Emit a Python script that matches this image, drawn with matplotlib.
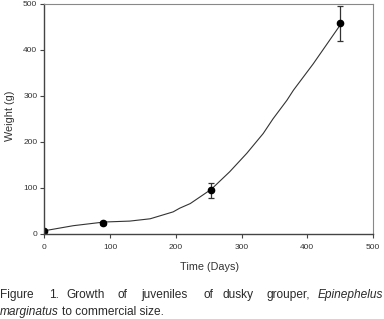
import matplotlib
matplotlib.use("Agg")
import matplotlib.pyplot as plt

# measured means with standard deviation
days = [0, 90, 253, 450]
weight = [7, 24.5, 95, 457]
weight_sd = [0, 4, 16, 38]

# fitted growth curve
curve_days = [0, 44, 91, 130, 161, 196, 206, 222, 254, 282, 308, 333, 348, 369, 379, 409, 448]
curve_weight = [7, 18, 26, 28, 33, 48, 56, 66, 97, 135, 175, 218, 250, 290, 312, 369, 449]

x_ticks = [0, 100, 200, 300, 400, 500]
y_ticks = [0, 100, 200, 300, 400, 500]

W, H = 384, 319
fig = plt.figure(figsize=(W / 100, H / 100), dpi=100)
ax = fig.add_axes([44.3 / W, 1 - 234 / H, (373 - 44.3) / W, (234 - 3.5) / H])

ax.plot(curve_days, curve_weight, color="#333333", lw=0.8)
ax.errorbar(days, weight, yerr=weight_sd, fmt="o", color="black", ms=4.5,
            ecolor="#333333", elinewidth=0.9, capsize=2.5, capthick=0.9)

ax.set_xlim(0, 500)
ax.set_ylim(0, 500)
ax.set_xticks(x_ticks)
ax.set_yticks(y_ticks)

label_font = ["Liberation Sans", "DejaVu Sans"]
ax.tick_params(direction="out", length=3, width=0.8, color="#444444",
               labelsize=6, labelcolor="#333333", top=False, right=False)
ax.tick_params(axis="x", pad=4.5)
ax.tick_params(axis="y", pad=2)
for lab in ax.get_xticklabels() + ax.get_yticklabels():
    lab.set_family(label_font)

for side in ["left", "bottom"]:
    ax.spines[side].set_color("#444444")
    ax.spines[side].set_linewidth(1.0)
for side in ["top", "right"]:
    ax.spines[side].set_color("#888888")
    ax.spines[side].set_linewidth(0.8)

fig.text(209 / W, 1 - 267 / H, "Time (Days)", ha="center", va="center",
         fontsize=7.8, color="#333333", family=label_font)
fig.text(10 / W, 1 - 116 / H, "Weight (g)", ha="center", va="center",
         rotation=90, fontsize=7.8, color="#333333", family=label_font)

# caption, justified first line laid out word by word
cap_font = ["Liberation Sans", "DejaVu Sans"]
cap_size = 8.6
line1 = [("Figure", 0, "left", "normal"), ("1.", 54, "center", "normal"),
         ("Growth", 86, "center", "normal"), ("of", 122, "center", "normal"),
         ("juveniles", 164, "center", "normal"), ("of", 208, "center", "normal"),
         ("dusky", 238, "center", "normal"), ("grouper,", 288, "center", "normal"),
         ("Epinephelus", 383, "right", "italic")]
for word, x, ha, style in line1:
    fig.text(x / W, 1 - 298.3 / H, word, ha=ha, va="baseline", fontsize=cap_size,
             style=style, color="#2a2a2a", family=cap_font)
fig.text(0, 1 - 315 / H, "marginatus", ha="left", va="baseline", fontsize=cap_size,
         style="italic", color="#2a2a2a", family=cap_font)
fig.text(62 / W, 1 - 315 / H, "to commercial size.", ha="left", va="baseline",
         fontsize=cap_size, color="#2a2a2a", family=cap_font)

fig.savefig("out.png", dpi=100)
